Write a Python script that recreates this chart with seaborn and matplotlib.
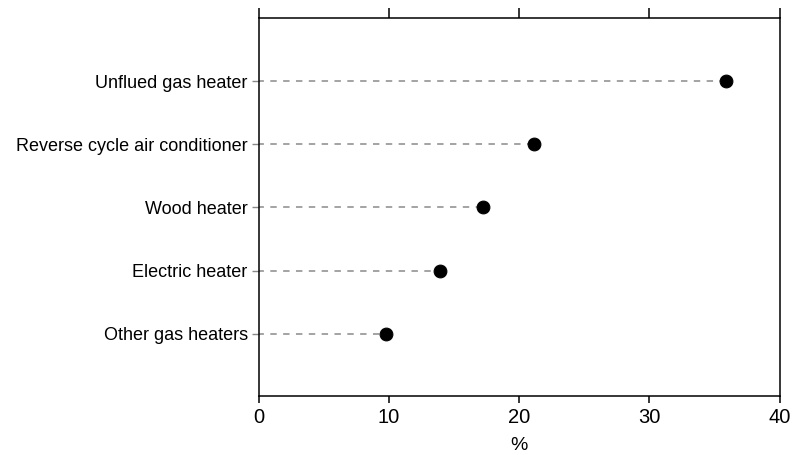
import matplotlib
matplotlib.use('Agg')
import matplotlib.pyplot as plt
import seaborn as sns
import pandas as pd

# Main heater type, per cent
heaters = ['Unflued gas heater', 'Reverse cycle air conditioner', 'Wood heater',
           'Electric heater', 'Other gas heaters']
percent = [35.9, 21.1, 17.2, 13.9, 9.8]
x_ticks = [0, 10, 20, 30, 40]

df = pd.DataFrame({'Heater': heaters, 'Percent': percent})

sns.set_style('white')
plt.rcParams['font.family'] = ['Liberation Sans', 'DejaVu Sans']

fig, ax = plt.subplots(figsize=(7.94, 4.55), dpi=100)
fig.subplots_adjust(left=0.326, right=0.982, top=0.960, bottom=0.130)

pos = list(range(len(heaters)))
ax.hlines(pos, 0, df['Percent'], colors='#8a8a8a', linestyles=(1, (4.2, 4.2)),
          linewidth=1.1, zorder=1)
sns.scatterplot(data=df, x='Percent', y='Heater', color='black', s=85,
                edgecolor='black', zorder=3, ax=ax, legend=False)

ax.set_xlim(0, 40)
ax.set_ylim(len(heaters) - 0.015, -1.0)
ax.set_xticks(x_ticks)
ax.set_xlabel('%', fontsize=14, color='black', labelpad=7)
ax.set_ylabel('')

for side in ['left', 'right', 'top', 'bottom']:
    ax.spines[side].set_visible(True)
    ax.spines[side].set_color('black')
    ax.spines[side].set_linewidth(1.1)

ax.tick_params(axis='x', direction='out', length=5, width=1.1, colors='black',
               labelsize=14.5, top=True, bottom=True, labeltop=False, pad=4)
for t in ax.xaxis.get_major_ticks():
    t.tick2line.set_markersize(7)
ax.tick_params(axis='y', direction='out', length=5, width=1.0, color='#888888',
               labelcolor='black', labelsize=13, left=True, pad=3)

plt.savefig('out.png', dpi=100)
